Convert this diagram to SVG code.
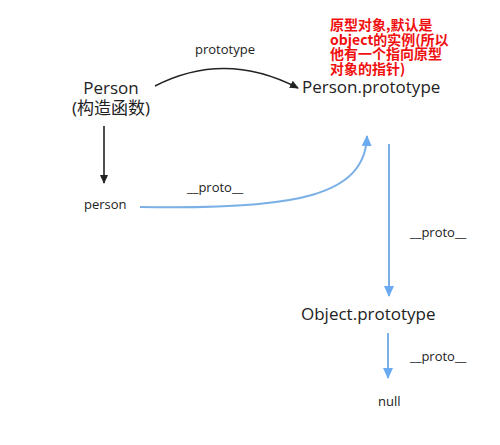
<svg xmlns="http://www.w3.org/2000/svg" width="500" height="445" viewBox="0 0 500 445">
<style>
text{font-family:"Open Sans","Noto Sans","Noto Sans CJK SC",sans-serif;fill:#222}
.big{font-size:17px}
.sm{font-size:13px}
.note{font-size:14px;font-weight:bold;fill:#f01010;font-family:"Noto Sans CJK SC","Noto Sans",sans-serif}
.k{fill:none;stroke:#222;stroke-width:1.6}
.b{fill:none;stroke:#7ab0e6;stroke-width:2}
</style>
<defs>
<marker id="ak" markerWidth="10" markerHeight="10" refX="8" refY="5" orient="auto" markerUnits="userSpaceOnUse"><path d="M0,1 L9,5 L0,9 Z" fill="#222"/></marker>
<marker id="ab" markerWidth="12" markerHeight="12" refX="10" refY="6" orient="auto" markerUnits="userSpaceOnUse"><path d="M0,1 L11,6 L0,11 Z" fill="#6aaaf0"/></marker>
</defs>
<rect width="500" height="445" fill="#fff"/>
<g id="connectors">
<path class="k" d="M155,86 Q225,50 298,88" marker-end="url(#ak)"/>
<line class="k" x1="104" y1="126" x2="104" y2="183" marker-end="url(#ak)"/>
<path class="b" d="M140,207 C300,210 365,195 367,136" marker-end="url(#ab)"/>
<line class="b" x1="389" y1="144" x2="389" y2="296" marker-end="url(#ab)"/>
<line class="b" x1="388" y1="333" x2="388" y2="378" marker-end="url(#ab)"/>
<text class="sm" x="225" y="54" text-anchor="middle">prototype</text>
<text class="sm" x="187" y="192">__proto__</text>
<text class="sm" x="410" y="237">__proto__</text>
<text class="sm" x="410" y="361">__proto__</text>
</g>
<g id="person-ctor">
<text class="big" x="111" y="94" text-anchor="middle">Person</text>
<text class="big" x="111" y="114" text-anchor="middle">(构造函数)</text>
</g>
<g id="person-prototype">
<text class="big" x="302" y="93">Person.prototype</text>
</g>
<g id="note">
<text class="note" x="330" y="30"><tspan x="330" y="30">原型对象,默认是</tspan><tspan x="330" y="44.5">object的实例(所以</tspan><tspan x="330" y="59">他有一个指向原型</tspan><tspan x="330" y="73.5">对象的指针)</tspan></text>
</g>
<g id="person">
<text class="sm" x="84" y="209">person</text>
</g>
<g id="object-prototype">
<text class="big" x="301" y="320">Object.prototype</text>
</g>
<g id="null">
<text class="sm" x="378" y="406">null</text>
</g>
</svg>
